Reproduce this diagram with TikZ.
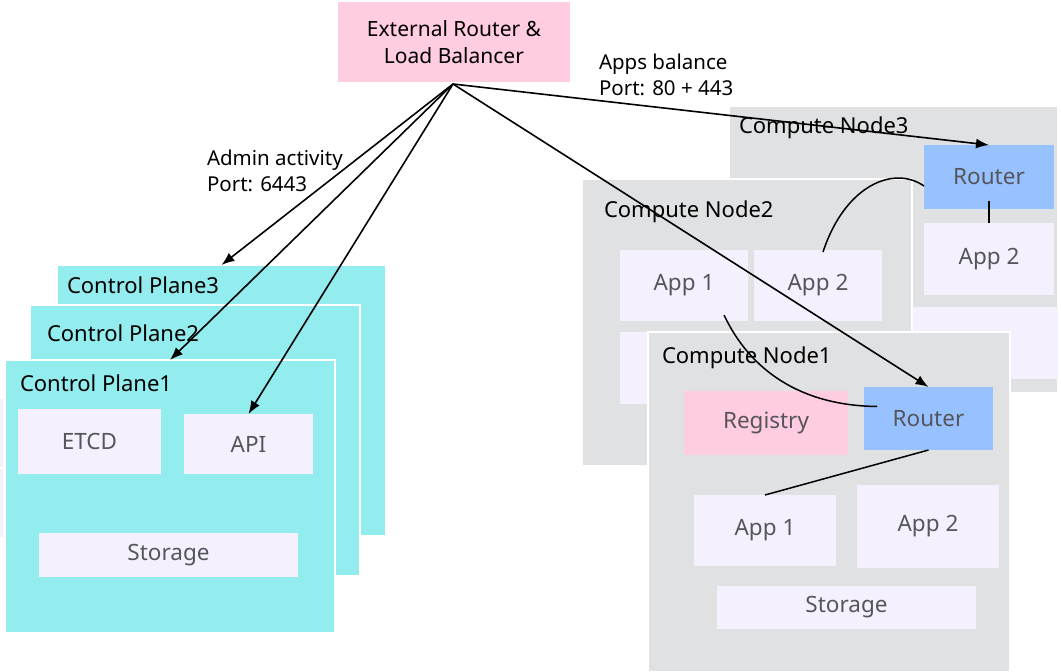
\documentclass[tikz,border=0pt]{standalone}
\usepackage{fontspec}
\setmainfont{Noto Sans}
\usetikzlibrary{arrows.meta,calc}
\definecolor{lbpink}{RGB}{255,204,225}
\definecolor{cpcyan}{RGB}{147,236,237}
\definecolor{partlav}{RGB}{245,240,254}
\definecolor{nodegray}{RGB}{224,225,227}
\definecolor{rtblue}{RGB}{151,193,255}
\definecolor{partink}{RGB}{85,85,90}
\begin{document}
\begin{tikzpicture}[x=1pt,y=-1pt,
  every node/.style={inner sep=0pt,outer sep=0pt},
  cplane/.style={anchor=north west,fill=cpcyan,draw=white,line width=1.5pt},
  cnode/.style={anchor=north west,fill=nodegray,draw=white,line width=1.5pt},
  part/.style={anchor=north west,fill=partlav,font=\fontsize{22.5}{27}\selectfont,text=partink},
  router/.style={part,fill=rtblue},
  registry/.style={part,fill=lbpink},
  title/.style={anchor=base west,font=\fontsize{22}{27}\selectfont,text=black},
  note/.style={anchor=west,align=left,font=\fontsize{20.5}{26}\selectfont,text=black},
  flow/.style={line width=1.6pt,-{Latex[length=13pt,width=10pt]}},
  link/.style={line width=1.5pt}]
\useasboundingbox (0,0) rectangle (1061,672);

% edges of parts belonging to planes further back
\fill[partlav] (0,399) rectangle (3,467);
\fill[partlav] (0,469) rectangle (3,537);

% external load balancer
\node[anchor=north west,fill=lbpink,minimum width=232pt,minimum height=80pt,
      font=\fontsize{21}{27}\selectfont,align=center] (elb) at (338,2)
      {External Router \&\\Load Balancer};
\coordinate (src) at (453,84);

% control planes, back to front
\node[cplane,minimum width=329pt,minimum height=271pt] (cp3) at (57,265) {};
\node[title] (cp3t) at (67,293) {Control Plane3};
\node[cplane,minimum width=330pt,minimum height=271pt] (cp2) at (30,305) {};
\node[title] (cp2t) at (47,341) {Control Plane2};
\node[cplane,minimum width=330pt,minimum height=273pt] (cp1) at (5,360) {};
\node[title] (cp1t) at (20,391) {Control Plane1};
\node[part,minimum width=143pt,minimum height=65pt] (etcd) at (18,409) {ETCD};
\node[part,minimum width=129pt,minimum height=60pt] (api) at (184,414) {API};
\node[part,minimum width=259pt,minimum height=44pt] (cpstore) at (39,533) {Storage};

% compute nodes, back to front
\node[cnode,minimum width=329pt,minimum height=287pt] (cn3) at (729,106) {};
\node[title] (cn3t) at (739,133) {Compute Node3};
\node[router,minimum width=130pt,minimum height=64pt] (r3) at (924,145) {Router};
\node[part,minimum width=130pt,minimum height=72pt] (n3a2) at (924,223) {App 2};
\node[part,minimum width=160pt,minimum height=72pt] (n3st) at (898,307) {};

\node[cnode,minimum width=330pt,minimum height=287pt] (cn2) at (582,179) {};
\node[title] (cn2t) at (604,217) {Compute Node2};
\node[part,minimum width=128pt,minimum height=71pt] (n2a1) at (620,250) {App 1};
\node[part,minimum width=128pt,minimum height=71pt] (n2a2) at (754,250) {App 2};
\node[part,minimum width=262pt,minimum height=72pt] (n2st) at (620,332) {};

\node[cnode,minimum width=362pt,minimum height=340pt] (cn1) at (648,332) {};
\node[title] (cn1t) at (662,363) {Compute Node1};
\node[registry,minimum width=164pt,minimum height=64pt] (reg) at (684,391) {Registry};
\node[router,minimum width=129pt,minimum height=63pt] (r1) at (864,387) {Router};
\node[part,minimum width=142pt,minimum height=71pt] (n1a1) at (694,495) {App 1};
\node[part,minimum width=142pt,minimum height=83pt] (n1a2) at (857,485) {App 2};
\node[part,minimum width=259pt,minimum height=43pt] (n1st) at (717,586) {Storage};

% traffic labels
\node[note] (adm) at (207,170.5) {Admin activity\\Port: 6443};
\node[note] (apps) at (599,75) {Apps balance\\Port: 80 + 443};

% links between routers and apps
\draw[link] (r1.south) -- (n1a1.north);
\draw[link] ($(r3.south)+(0,-8)$) -- (n3a2.north);
\draw[link] ([xshift=5pt,yshift=-2pt]n2a2.north)
  .. controls +(22,-67) and +(-30,-21) .. ([yshift=-9pt]r3.west);
\draw[link] ([xshift=40pt,yshift=6pt]n2a1.south)
  .. controls +(26,55) and +(-77,-1) .. ([xshift=13pt,yshift=12pt]r1.west);

% traffic from the external load balancer
\draw[flow] (src) -- (cp3.north);
\draw[flow] (src) -- (cp1.north);
\draw[flow] (src) -- (api.north);
\draw[flow] (src) -- (r1.north);
\draw[flow] (src) -- (r3.north);
\end{tikzpicture}
\end{document}
